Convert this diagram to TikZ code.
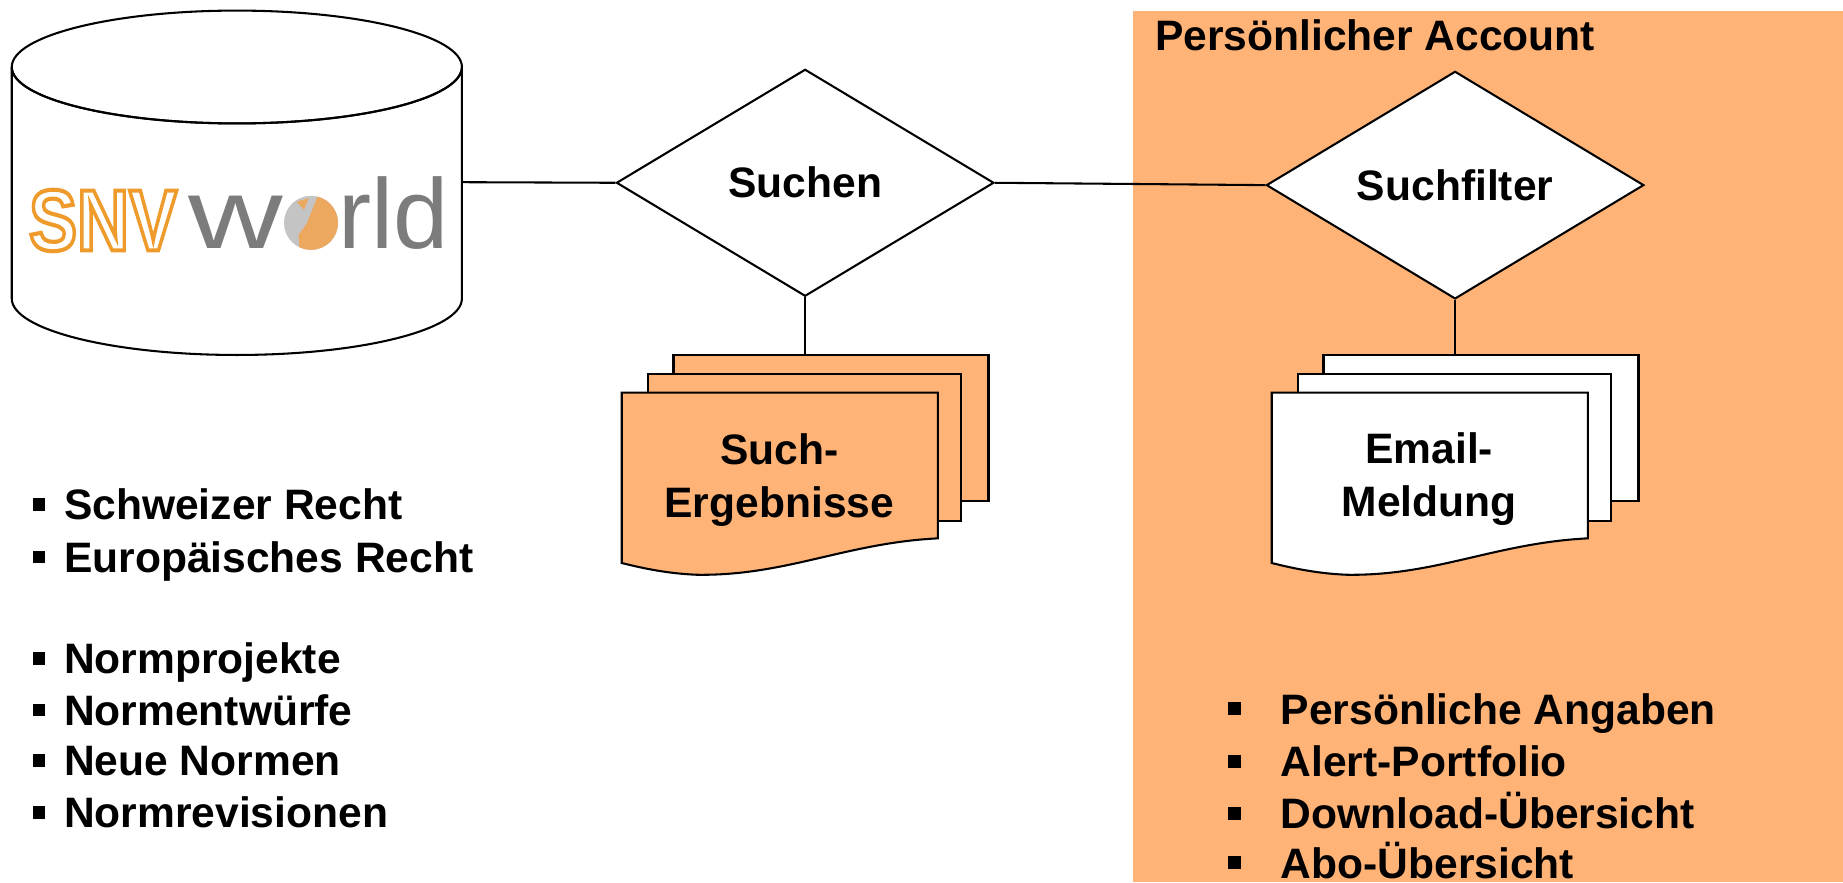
\documentclass[tikz,border=0pt]{standalone}
\usepackage{fontspec}
\setmainfont{Liberation Sans}
\usetikzlibrary{shapes.geometric}
\definecolor{panelorange}{HTML}{FFB376}
\definecolor{logoorange}{HTML}{EE9B2C}
\definecolor{logogrey}{HTML}{7C7C7C}
\definecolor{globegrey}{HTML}{C4C4C4}
\definecolor{globeorange}{HTML}{EDA860}
\newcommand{\bul}{\rule[0.21em]{0.3em}{0.3em}}
\newcommand{\outlined}[1]{\special{pdf:code q 1 Tr 1 w}#1\special{pdf:code Q}}
\tikzset{
  entry/.style={font=\fontsize{10.3}{12.8}\selectfont\bfseries, anchor=base west, inner sep=0pt},
  title/.style={font=\fontsize{10.3}{12.8}\selectfont\bfseries, align=center, inner sep=0pt},
  decide/.style={diamond, draw, line width=0.5pt, fill=white, inner sep=0pt, minimum width=3.21cm, minimum height=1.93cm,
    font=\fontsize{10.3}{12.8}\selectfont\bfseries},
  conn/.style={line width=0.5pt},
  pics/docstack/.style={code={
    \draw[line width=0.5pt, fill=#1] (44,-32) -- (312,-32) -- (312,92) -- (289,92) -- (289,0) -- (44,0) -- cycle;
    \draw[line width=0.5pt, fill=#1] (22,-16) -- (289,-16) -- (289,109) -- (269,109) -- (269,0) -- (22,0) -- cycle;
    \draw[line width=0.5pt, fill=#1] (0,0) -- (269,0) -- (269,124) .. controls (190,128) and (140,156) .. (64,155) .. controls (40,154) and (20,150) .. (0,145) -- cycle;
    \coordinate (-top) at (156,-32);
  }}
}
\begin{document}
\begin{tikzpicture}[x=0.01cm,y=-0.01cm]
  \useasboundingbox (0,0) rectangle (1568,750.4);
  \fill[panelorange] (964,9) rectangle (1568,750.4);
  % database
  \draw[line width=0.5pt] (10,57) -- (10,254) arc[start angle=180, end angle=360, x radius=191.5, y radius=-48]
    -- (393,57) arc[start angle=0, end angle=-360, x radius=191.5, y radius=-48];
  \draw[line width=0.5pt] (10,57) arc[start angle=180, end angle=360, x radius=191.5, y radius=-48];
  \coordinate (dbport) at (393,155);
  % logo
  \node[inner sep=0pt, anchor=base west, text=logoorange, font=\fontsize{21}{21}\selectfont\bfseries] (logosnv) at (24,213) {\scalebox{0.83}[1]{\outlined{SNV}}};
  \node[inner sep=0pt, anchor=base west, text=logogrey, font=\fontsize{24}{24}\selectfont] (logow) at (160,211) {\scalebox{1.32}[1]{w}};
  \fill[globegrey] (264.6,189.6) circle[radius=23];
  \begin{scope}
    \clip (264.6,189.6) circle[radius=23];
    \fill[globeorange] (271,165) -- (261,190) -- (254,200) -- (255,215) -- (295,215) -- (295,165) -- cycle;
    \fill[globeorange] (252.6,171.6) -- (262.6,168.6) -- (258.6,178.6) -- cycle;
  \end{scope}
  \node[inner sep=0pt, anchor=base west, text=logogrey, font=\fontsize{24}{24}\selectfont] (logorld) at (287,211) {rld};
  % flow
  \node[decide] (suchen) at (685,155.5) {Suchen};
  \node[decide] (filter) at (1238,157.5) {\raisebox{-0.02cm}{Suchfilter}};
  \pic (res) at (529,334) {docstack=panelorange};
  \pic (mail) at (1082,334) {docstack=white};
  \node[title] (reslabel) at (663,408.5) {Such-\\Ergebnisse};
  \node[title] (maillabel) at (1216,407.5) {Email-\\Meldung};
  \draw[conn] (dbport) -- (suchen.west);
  \draw[conn] (suchen.east) -- (filter.west);
  \draw[conn] (suchen.south) -- (res-top);
  \draw[conn] (filter.south) -- (mail-top);
  % lists
  \node[entry] (account) at (982,43) {Persönlicher Account};
  \foreach \n/\y/\t in {a/442/Schweizer Recht,b/487/Europäisches Recht,c/573/Normprojekte,d/617/Normentwürfe,e/660/Neue Normen,f/704/Normrevisionen}
    \node[entry] (left\n) at (27,\y) {\bul\hspace{0.44em}\t};
  \foreach \n/\y/\t in {a/616/Persönliche Angaben,b/661/Alert-Portfolio,c/705/Download-Übersicht,d/747/Abo-Übersicht}
    \node[entry] (right\n) at (1044,\y) {\bul\hspace{0.94em}\t};
\end{tikzpicture}
\end{document}
